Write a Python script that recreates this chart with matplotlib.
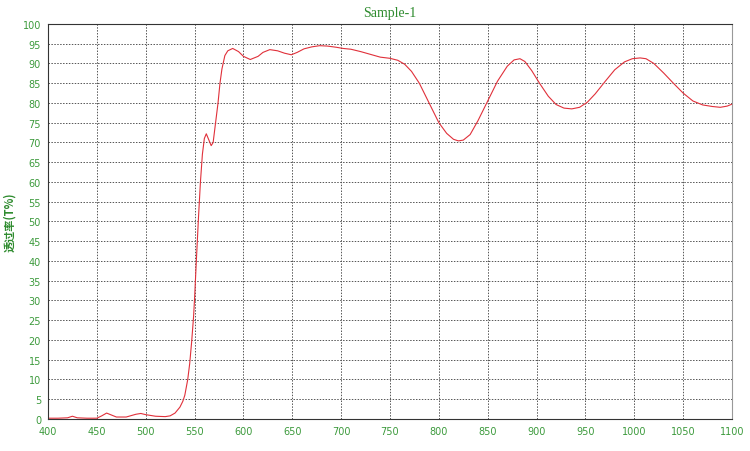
"""Transmittance curve of Sample-1."""

import matplotlib

matplotlib.use("Agg")
from matplotlib import pyplot as plt

wavelength = [
    400, 410, 420, 425, 430, 440, 450, 455, 460, 465, 470, 480, 490, 495,
    500, 510, 520, 525, 530, 535, 538, 540, 543, 545, 547, 549, 550, 552,
    554, 556, 558, 560, 562, 564, 567, 569, 571, 574, 576, 578, 581, 584,
    589, 595, 600, 607, 615, 620, 627, 635, 642, 649, 655, 662, 670, 678,
    686, 695, 702, 710, 720, 730, 740, 750, 758, 765, 772, 780, 790, 800,
    808, 815, 820, 825, 832, 840, 850, 860, 870, 877, 883, 888, 895, 903,
    912, 920, 928, 936, 944, 952, 960, 970, 980, 990, 998, 1006, 1012,
    1020, 1030, 1040, 1050, 1060, 1070, 1080, 1088, 1095, 1100,
]
transmittance = [
    0.2, 0.2, 0.3, 0.7, 0.3, 0.2, 0.2, 0.8, 1.5, 1.0, 0.5, 0.5, 1.2, 1.4,
    1.1, 0.7, 0.6, 0.8, 1.5, 3.0, 4.5, 6.0, 10.0, 14.0, 19.5, 26.0, 30.5, 41.0,
    51.0, 60.0, 67.0, 71.0, 72.2, 71.0, 69.2, 70.0, 74.0, 80.0, 85.0, 88.6, 92.0, 93.2,
    93.8, 93.0, 91.8, 91.0, 91.8, 92.8, 93.5, 93.2, 92.6, 92.2, 92.8, 93.7, 94.2, 94.5,
    94.4, 94.1, 93.8, 93.6, 93.0, 92.3, 91.6, 91.3, 90.8, 89.8, 88.0, 85.0, 80.0, 75.0,
    72.3, 70.8, 70.4, 70.6, 72.0, 75.5, 80.5, 85.5, 89.3, 90.9, 91.2, 90.5, 88.2, 85.0,
    81.7, 79.6, 78.7, 78.5, 78.9, 80.2, 82.3, 85.4, 88.4, 90.4, 91.2, 91.4, 91.2,
    90.0, 87.6, 85.0, 82.5, 80.5, 79.5, 79.1, 78.9, 79.2, 79.7,
]

x_ticks = list(range(400, 1101, 50))
y_ticks = list(range(0, 101, 5))

GREEN = "#2e8b2e"

fig = plt.figure(figsize=(7.5, 4.52), dpi=100)
ax = fig.add_axes([0.064, 0.0708, 0.912, 0.874])

ax.plot(wavelength, transmittance, color="#e0303a", linewidth=0.8)

ax.set_xlim(400, 1100)
ax.set_ylim(0, 100)
ax.set_xticks(x_ticks)
ax.set_yticks(y_ticks)
ax.tick_params(length=0, labelsize=7, labelcolor="#3c9a3c", pad=5)
ax.grid(True, color="#555555", linestyle=(0, (1.5, 1.5)), linewidth=0.7)

for side in ["top", "left", "bottom"]:
    ax.spines[side].set_color("#333333")
ax.spines["right"].set_color("#999999")

ax.set_title("Sample-1", color=GREEN, fontsize=10, family="Liberation Serif", pad=6)
ax.set_ylabel("透过率(T%)", color=GREEN, fontsize=8, fontweight="bold",
              family=["Noto Sans CJK SC", "DejaVu Sans"])
ax.yaxis.set_label_coords(-0.046, 0.5)

plt.savefig("out.png", dpi=100)
